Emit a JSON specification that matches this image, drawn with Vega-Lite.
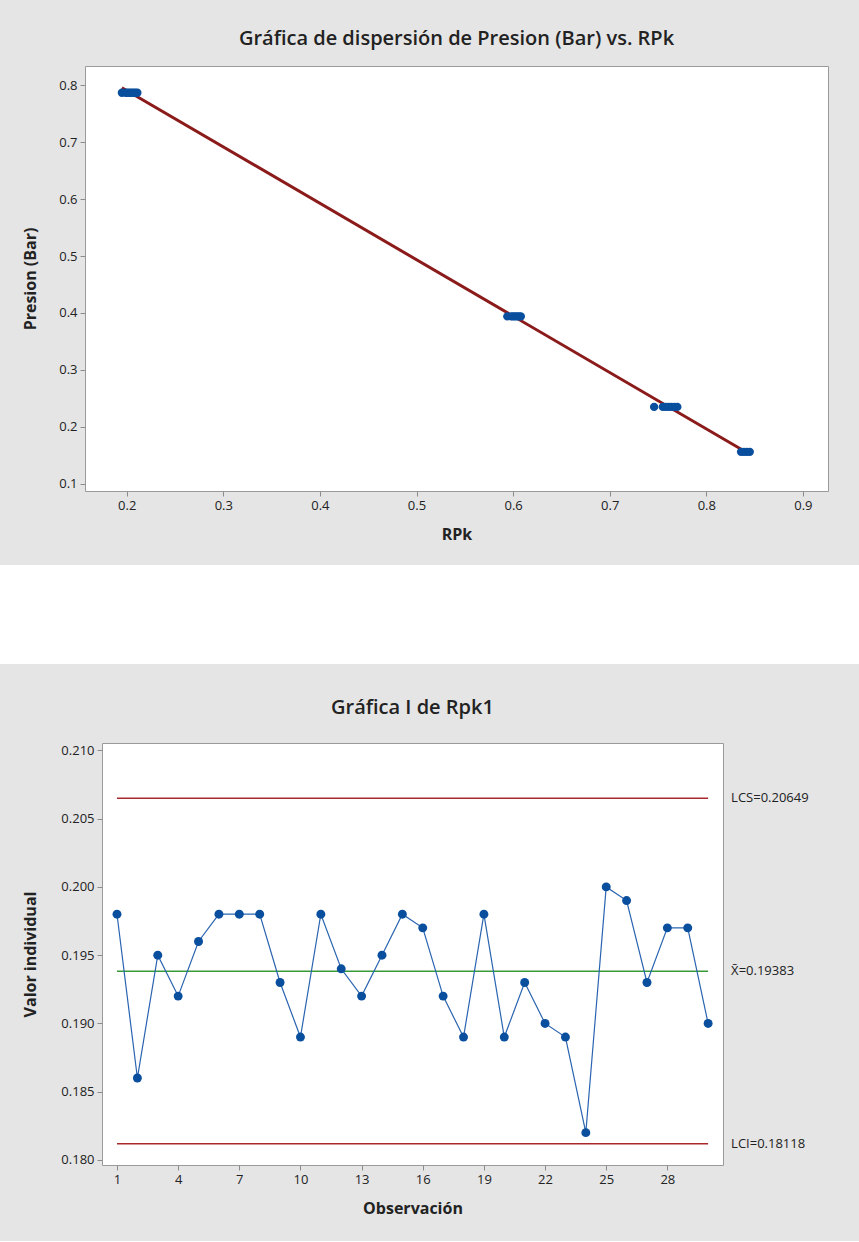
{
  "$schema": "https://vega.github.io/schema/vega-lite/v6.json",
  "description": "Dispersion de Presion (Bar) vs RPk y grafica I de Rpk1",
  "background": "#e5e5e5",
  "padding": {"top": 28, "left": 0, "right": 0, "bottom": 24},
  "spacing": 0,
  "datasets": {
    "dispersion": [
      {"RPk": 0.195, "Presion": 0.787},
      {"RPk": 0.199, "Presion": 0.787},
      {"RPk": 0.201, "Presion": 0.787},
      {"RPk": 0.203, "Presion": 0.787},
      {"RPk": 0.205, "Presion": 0.787},
      {"RPk": 0.207, "Presion": 0.787},
      {"RPk": 0.209, "Presion": 0.787},
      {"RPk": 0.211, "Presion": 0.787},
      {"RPk": 0.594, "Presion": 0.394},
      {"RPk": 0.598, "Presion": 0.394},
      {"RPk": 0.600, "Presion": 0.394},
      {"RPk": 0.602, "Presion": 0.394},
      {"RPk": 0.604, "Presion": 0.394},
      {"RPk": 0.606, "Presion": 0.394},
      {"RPk": 0.608, "Presion": 0.394},
      {"RPk": 0.746, "Presion": 0.235},
      {"RPk": 0.755, "Presion": 0.235},
      {"RPk": 0.758, "Presion": 0.235},
      {"RPk": 0.761, "Presion": 0.235},
      {"RPk": 0.764, "Presion": 0.235},
      {"RPk": 0.767, "Presion": 0.235},
      {"RPk": 0.770, "Presion": 0.235},
      {"RPk": 0.836, "Presion": 0.156},
      {"RPk": 0.839, "Presion": 0.156},
      {"RPk": 0.842, "Presion": 0.156},
      {"RPk": 0.845, "Presion": 0.156}
    ],
    "rpk1": [
      {"obs": 1, "Rpk1": 0.198}, {"obs": 2, "Rpk1": 0.186}, {"obs": 3, "Rpk1": 0.195},
      {"obs": 4, "Rpk1": 0.192}, {"obs": 5, "Rpk1": 0.196}, {"obs": 6, "Rpk1": 0.198},
      {"obs": 7, "Rpk1": 0.198}, {"obs": 8, "Rpk1": 0.198}, {"obs": 9, "Rpk1": 0.193},
      {"obs": 10, "Rpk1": 0.189}, {"obs": 11, "Rpk1": 0.198}, {"obs": 12, "Rpk1": 0.194},
      {"obs": 13, "Rpk1": 0.192}, {"obs": 14, "Rpk1": 0.195}, {"obs": 15, "Rpk1": 0.198},
      {"obs": 16, "Rpk1": 0.197}, {"obs": 17, "Rpk1": 0.192}, {"obs": 18, "Rpk1": 0.189},
      {"obs": 19, "Rpk1": 0.198}, {"obs": 20, "Rpk1": 0.189}, {"obs": 21, "Rpk1": 0.193},
      {"obs": 22, "Rpk1": 0.190}, {"obs": 23, "Rpk1": 0.189}, {"obs": 24, "Rpk1": 0.182},
      {"obs": 25, "Rpk1": 0.200}, {"obs": 26, "Rpk1": 0.199}, {"obs": 27, "Rpk1": 0.193},
      {"obs": 28, "Rpk1": 0.197}, {"obs": 29, "Rpk1": 0.197}, {"obs": 30, "Rpk1": 0.190}
    ],
    "limites": [
      {"limite": "LCS", "valor": 0.20649, "etiqueta": "LCS=0.20649"},
      {"limite": "media", "valor": 0.19383, "etiqueta": "X̄=0.19383"},
      {"limite": "LCI", "valor": 0.18118, "etiqueta": "LCI=0.18118"}
    ]
  },
  "vconcat": [
    {
      "spacing": 0,
      "hconcat": [
        {
          "width": 22,
          "height": 1,
          "data": {"values": [{}]},
          "mark": {"type": "point", "opacity": 0},
          "view": {"fill": null, "stroke": null}
        },
        {
          "title": {"text": "Gráfica de dispersión de Presion (Bar) vs. RPk", "fontSize": 20, "offset": 17, "frame": "group"},
          "width": 743,
          "height": 425,
          "data": {"name": "dispersion"},
          "encoding": {
            "x": {
              "field": "RPk",
              "type": "quantitative",
              "scale": {"domain": [0.1568, 0.926], "nice": false, "zero": false},
              "axis": {"values": [0.2, 0.3, 0.4, 0.5, 0.6, 0.7, 0.8, 0.9], "format": ".1f", "title": "RPk", "titlePadding": 14}
            },
            "y": {
              "field": "Presion",
              "type": "quantitative",
              "scale": {"domain": [0.0872, 0.834], "nice": false, "zero": false},
              "axis": {"values": [0.1, 0.2, 0.3, 0.4, 0.5, 0.6, 0.7, 0.8], "format": ".1f", "title": "Presion (Bar)", "titlePadding": 20}
            }
          },
          "layer": [
            {
              "transform": [{"regression": "Presion", "on": "RPk"}],
              "mark": {"type": "line", "color": "#8b1a1a", "strokeWidth": 3}
            },
            {
              "mark": {"type": "circle", "size": 70, "color": "#0a4f9e", "opacity": 1}
            }
          ]
        }
      ]
    },
    {
      "width": 859,
      "height": 22,
      "data": {"values": [{}]},
      "mark": {"type": "point", "opacity": 0},
      "view": {"fill": null, "stroke": null}
    },
    {
      "width": 859,
      "height": 99,
      "data": {"values": [{}]},
      "mark": {"type": "point", "opacity": 0},
      "view": {"fill": "white", "stroke": null}
    },
    {
      "width": 859,
      "height": 33,
      "data": {"values": [{}]},
      "mark": {"type": "point", "opacity": 0},
      "view": {"fill": null, "stroke": null}
    },
    {
      "spacing": 0,
      "hconcat": [
        {
          "width": 22,
          "height": 1,
          "data": {"values": [{}]},
          "mark": {"type": "point", "opacity": 0},
          "view": {"fill": null, "stroke": null}
        },
        {
          "title": {"text": "Gráfica I de Rpk1", "fontSize": 20, "offset": 25, "frame": "group"},
          "width": 621,
          "height": 422,
          "layer": [
            {
              "data": {"name": "limites"},
              "transform": [{"filter": "datum.limite != 'media'"}],
              "mark": {"type": "rule", "color": "#a8282c", "strokeWidth": 1.5},
              "encoding": {
                "x": {
                  "datum": 1,
                  "type": "quantitative",
                  "scale": {"domain": [0.264, 30.73], "nice": false, "zero": false},
                  "axis": {"values": [1, 4, 7, 10, 13, 16, 19, 22, 25, 28], "title": "Observación", "titlePadding": 14}
                },
                "x2": {"datum": 30},
                "y": {
                  "field": "valor",
                  "type": "quantitative",
                  "scale": {"domain": [0.17963, 0.21054], "nice": false, "zero": false},
                  "axis": {"values": [0.180, 0.185, 0.190, 0.195, 0.200, 0.205, 0.210], "format": ".3f", "title": "Valor individual", "titlePadding": 22}
                }
              }
            },
            {
              "data": {"name": "limites"},
              "transform": [{"filter": "datum.limite == 'media'"}],
              "mark": {"type": "rule", "color": "#3a9a3a", "strokeWidth": 1.5},
              "encoding": {
                "x": {"datum": 1, "type": "quantitative"},
                "x2": {"datum": 30},
                "y": {"field": "valor", "type": "quantitative"}
              }
            },
            {
              "data": {"name": "rpk1"},
              "mark": {
                "type": "line",
                "color": "#2a64b0",
                "strokeWidth": 1.2,
                "point": {"filled": true, "size": 80, "color": "#0a4f9e", "opacity": 1}
              },
              "encoding": {
                "x": {"field": "obs", "type": "quantitative"},
                "y": {"field": "Rpk1", "type": "quantitative"}
              }
            },
            {
              "data": {"name": "limites"},
              "mark": {"type": "text", "align": "left", "baseline": "middle", "dx": 23, "fontSize": 13, "color": "#222222"},
              "encoding": {
                "x": {"datum": 30, "type": "quantitative"},
                "y": {"field": "valor", "type": "quantitative"},
                "text": {"field": "etiqueta"}
              }
            }
          ]
        }
      ]
    }
  ],
  "config": {
    "font": "Open Sans",
    "view": {"fill": "white", "stroke": "#9a9a9a", "strokeWidth": 1},
    "axis": {
      "domain": false,
      "grid": false,
      "ticks": true,
      "tickColor": "#8c8c8c",
      "tickSize": 5,
      "labelPadding": 3,
      "labelFontSize": 13,
      "labelColor": "#222222",
      "titleFontSize": 16,
      "titleFontWeight": "bold",
      "titleColor": "#222222"
    },
    "title": {"color": "#222222", "fontWeight": 600, "anchor": "middle"}
  }
}
